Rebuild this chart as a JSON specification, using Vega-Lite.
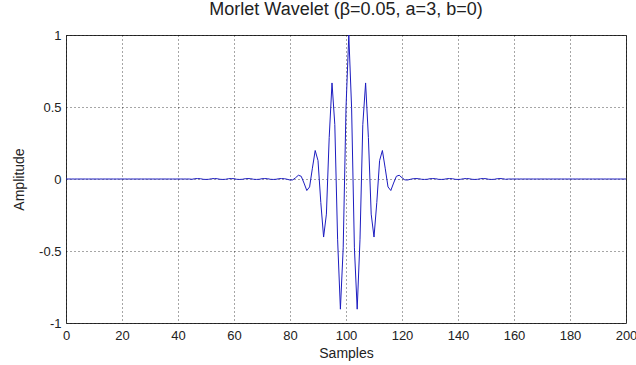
{
  "$schema": "https://vega.github.io/schema/vega-lite/v6.json",
  "width": 560,
  "height": 288,
  "autosize": {"type": "none"},
  "padding": {"left": 66, "top": 35, "right": 10, "bottom": 42},
  "background": "white",
  "config": {
    "view": {"stroke": "#333333", "strokeWidth": 1},
    "font": "Liberation Sans"
  },
  "title": {
    "text": "Morlet Wavelet (β=0.05, a=3, b=0)",
    "font": "Liberation Sans",
    "fontSize": 18,
    "fontWeight": "normal",
    "color": "#222222",
    "offset": 10,
    "anchor": "middle"
  },
  "data": {
    "values": [
      {"t":0,"v":0},{"t":1,"v":0},{"t":2,"v":0},{"t":3,"v":0},{"t":4,"v":0},{"t":5,"v":0},{"t":6,"v":0},{"t":7,"v":0},{"t":8,"v":0},{"t":9,"v":0},
      {"t":10,"v":0},{"t":11,"v":0},{"t":12,"v":0},{"t":13,"v":0},{"t":14,"v":0},{"t":15,"v":0},{"t":16,"v":0},{"t":17,"v":0},{"t":18,"v":0},{"t":19,"v":0},
      {"t":20,"v":0},{"t":21,"v":0},{"t":22,"v":0},{"t":23,"v":0},{"t":24,"v":0},{"t":25,"v":0},{"t":26,"v":0},{"t":27,"v":0},{"t":28,"v":0},{"t":29,"v":0},
      {"t":30,"v":0},{"t":31,"v":0},{"t":32,"v":0},{"t":33,"v":0},{"t":34,"v":0},{"t":35,"v":0},{"t":36,"v":0},{"t":37,"v":0},{"t":38,"v":0},{"t":39,"v":0},
      {"t":40,"v":0},{"t":41,"v":0},{"t":42,"v":0},{"t":43,"v":0},{"t":44,"v":0},
      {"t":45,"v":-0.002},{"t":46,"v":0.002},{"t":47,"v":0.003},{"t":48,"v":0.002},{"t":49,"v":-0.002},
      {"t":50,"v":-0.003},{"t":51,"v":-0.002},{"t":52,"v":0.002},{"t":53,"v":0.003},{"t":54,"v":0.002},
      {"t":55,"v":-0.002},{"t":56,"v":-0.003},{"t":57,"v":-0.002},{"t":58,"v":0.002},{"t":59,"v":0.003},
      {"t":60,"v":0.002},{"t":61,"v":-0.002},{"t":62,"v":-0.003},{"t":63,"v":-0.002},{"t":64,"v":0.002},
      {"t":65,"v":0.003},{"t":66,"v":0.002},{"t":67,"v":-0.002},{"t":68,"v":-0.003},{"t":69,"v":-0.002},
      {"t":70,"v":0.002},{"t":71,"v":0.003},{"t":72,"v":0.002},{"t":73,"v":-0.002},{"t":74,"v":-0.003},
      {"t":75,"v":-0.002},{"t":76,"v":0.002},{"t":77,"v":0.003},{"t":78,"v":0.002},{"t":79,"v":-0.002},
      {"t":80,"v":-0.007},{"t":81,"v":-0.006},{"t":82,"v":0.009},{"t":83,"v":0.026},{"t":84,"v":0.019},
      {"t":85,"v":-0.028},{"t":86,"v":-0.080},{"t":87,"v":-0.055},{"t":88,"v":0.075},{"t":89,"v":0.198},
      {"t":90,"v":0.128},{"t":91,"v":-0.163},{"t":92,"v":-0.403},{"t":93,"v":-0.244},{"t":94,"v":0.288},
      {"t":95,"v":0.667},{"t":96,"v":0.378},{"t":97,"v":-0.418},{"t":98,"v":-0.904},{"t":99,"v":-0.478},
      {"t":100,"v":0.494},{"t":101,"v":1.0},{"t":102,"v":0.494},{"t":103,"v":-0.478},{"t":104,"v":-0.904},
      {"t":105,"v":-0.418},{"t":106,"v":0.378},{"t":107,"v":0.667},{"t":108,"v":0.288},{"t":109,"v":-0.244},
      {"t":110,"v":-0.403},{"t":111,"v":-0.163},{"t":112,"v":0.128},{"t":113,"v":0.198},{"t":114,"v":0.075},
      {"t":115,"v":-0.055},{"t":116,"v":-0.080},{"t":117,"v":-0.028},{"t":118,"v":0.019},{"t":119,"v":0.026},
      {"t":120,"v":0.009},{"t":121,"v":-0.006},{"t":122,"v":-0.007},
      {"t":123,"v":-0.002},{"t":124,"v":0.002},{"t":125,"v":0.003},{"t":126,"v":0.002},{"t":127,"v":-0.002},
      {"t":128,"v":-0.003},{"t":129,"v":-0.002},{"t":130,"v":0.002},{"t":131,"v":0.003},{"t":132,"v":0.002},
      {"t":133,"v":-0.002},{"t":134,"v":-0.003},{"t":135,"v":-0.002},{"t":136,"v":0.002},{"t":137,"v":0.003},
      {"t":138,"v":0.002},{"t":139,"v":-0.002},{"t":140,"v":-0.003},{"t":141,"v":-0.002},{"t":142,"v":0.002},
      {"t":143,"v":0.003},{"t":144,"v":0.002},{"t":145,"v":-0.002},{"t":146,"v":-0.003},{"t":147,"v":-0.002},
      {"t":148,"v":0.002},{"t":149,"v":0.003},{"t":150,"v":0.002},{"t":151,"v":-0.002},{"t":152,"v":-0.003},
      {"t":153,"v":-0.002},{"t":154,"v":0.002},{"t":155,"v":0.003},{"t":156,"v":0.002},{"t":157,"v":-0.002},
      {"t":158,"v":0},{"t":159,"v":0},{"t":160,"v":0},{"t":161,"v":0},{"t":162,"v":0},{"t":163,"v":0},{"t":164,"v":0},{"t":165,"v":0},{"t":166,"v":0},{"t":167,"v":0},
      {"t":168,"v":0},{"t":169,"v":0},{"t":170,"v":0},{"t":171,"v":0},{"t":172,"v":0},{"t":173,"v":0},{"t":174,"v":0},{"t":175,"v":0},{"t":176,"v":0},{"t":177,"v":0},
      {"t":178,"v":0},{"t":179,"v":0},{"t":180,"v":0},{"t":181,"v":0},{"t":182,"v":0},{"t":183,"v":0},{"t":184,"v":0},{"t":185,"v":0},{"t":186,"v":0},{"t":187,"v":0},
      {"t":188,"v":0},{"t":189,"v":0},{"t":190,"v":0},{"t":191,"v":0},{"t":192,"v":0},{"t":193,"v":0},{"t":194,"v":0},{"t":195,"v":0},{"t":196,"v":0},{"t":197,"v":0},
      {"t":198,"v":0},{"t":199,"v":0},{"t":200,"v":0}
    ]
  },
  "mark": {"type": "line", "color": "#1c1cc0", "strokeWidth": 1, "interpolate": "linear"},
  "encoding": {
    "x": {
      "field": "t",
      "type": "quantitative",
      "scale": {"domain": [0, 200], "nice": false, "zero": false},
      "axis": {
        "title": "Samples",
        "values": [0, 20, 40, 60, 80, 100, 120, 140, 160, 180, 200],
        "format": "d",
        "domain": false,
        "ticks": false,
        "labelPadding": 6,
        "labelFontSize": 13,
        "labelColor": "#222222",
        "labelFont": "Liberation Sans",
        "labelFlush": false,
        "titleFontSize": 14,
        "titleFontWeight": "normal",
        "titleColor": "#222222",
        "titleFont": "Liberation Sans",
        "titlePadding": 4,
        "grid": true,
        "gridDash": [1, 3],
        "gridColor": "#000000",
        "gridOpacity": 0.7,
        "gridWidth": 1
      }
    },
    "y": {
      "field": "v",
      "type": "quantitative",
      "scale": {"domain": [-1, 1], "nice": false, "zero": false},
      "axis": {
        "title": "Amplitude",
        "values": [-1, -0.5, 0, 0.5, 1],
        "labelExpr": "datum.value == 0 ? '0' : (datum.value < 0 ? '-' : '') + format(abs(datum.value), '~g')",
        "domain": false,
        "ticks": false,
        "labelPadding": 5,
        "labelFontSize": 13,
        "labelColor": "#222222",
        "labelFont": "Liberation Sans",
        "labelFlush": false,
        "titleFontSize": 14,
        "titleFontWeight": "normal",
        "titleColor": "#222222",
        "titleFont": "Liberation Sans",
        "titleX": -47,
        "titleY": 144,
        "titleAngle": -90,
        "titleBaseline": "middle",
        "titleAlign": "center",
        "grid": true,
        "gridDash": [1, 3],
        "gridColor": "#000000",
        "gridOpacity": 0.7,
        "gridWidth": 1
      }
    }
  }
}
